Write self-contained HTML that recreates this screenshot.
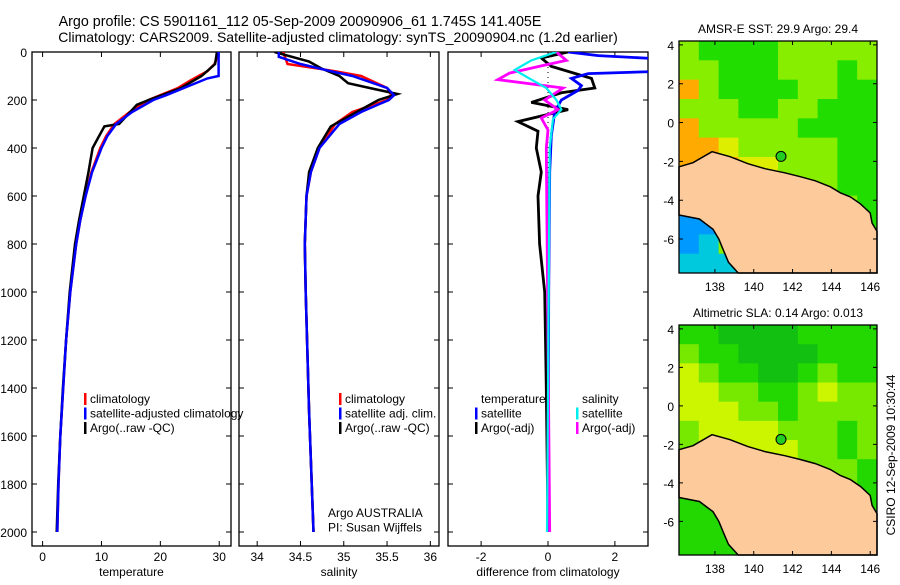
<!DOCTYPE html>
<html><head><meta charset="utf-8"><style>
html,body{margin:0;padding:0;background:#fff}
svg text{font-family:"Liberation Sans",sans-serif;fill:#000}
</style></head><body>
<svg id="chart" width="900" height="580" xmlns="http://www.w3.org/2000/svg">
<text x="300" y="26" font-size="14.3" text-anchor="middle">Argo profile: CS 5901161_112 05-Sep-2009 20090906_61 1.745S 141.405E</text>
<text x="338" y="42" font-size="14" text-anchor="middle">Climatology: CARS2009. Satellite-adjusted climatology: synTS_20090904.nc (1.2d earlier)</text>
<g id="p1"></g>
<g id="p2"></g>
<g id="p3"></g>
<g id="m1"></g>
<g id="m2"></g>
<text transform="translate(895,455) rotate(-90)" font-size="12" text-anchor="middle">CSIRO 12-Sep-2009 10:30:44</text>
</svg>
<script>
// ---------- data ----------
const tDepth=[0,20,50,80,100,120,150,180,200,250,300,350,400,500,600,700,800,1000,1200,1400,1600,1800,2000];
const tClim=[29.8,29.7,29.2,28,26.5,25,23,20,18,14.8,12.2,10.8,9.8,8.3,7.3,6.4,5.7,4.7,4.0,3.5,3.0,2.7,2.5];
const tSatDepth=[0,100,110,150,180,200,250,300,350,400,500,600,700,800,1000,1200,1400,1600,1800,2000];
const tSat=[29.9,29.9,28,24,21,18.8,15.2,12.5,11,10,8.4,7.3,6.4,5.7,4.7,4.0,3.5,3.0,2.7,2.5];
const tArgoDepth=[0,50,100,150,200,220,300,310,350,400,500,600,700,800,1000,1200,1400,1600,1800,2000];
const tArgo=[29.6,29.3,27,23.5,18,16,13,10.5,9.6,8.5,7.8,7,6.2,5.5,4.6,4.0,3.45,3.0,2.65,2.4];
const sDepth=[0,50,80,100,150,180,200,250,300,400,500,600,800,1000,1500,2000];
const sClim=[34.3,34.35,34.9,35.2,35.5,35.55,35.5,35.1,34.9,34.72,34.62,34.57,34.55,34.56,34.6,34.65];
const sSatDepth=[0,20,50,80,100,150,180,200,250,300,400,500,600,800,1000,1500,2000];
const sSat=[34.25,34.25,34.5,34.85,35.1,35.5,35.58,35.52,35.2,34.95,34.72,34.62,34.57,34.55,34.56,34.6,34.65];
const sArgoDepth=[0,40,70,100,130,150,175,200,250,310,340,400,500,600,800,1000,1500,2000];
const sArgo=[34.2,34.6,34.75,34.95,35.05,35.3,35.62,35.4,35.15,34.85,34.8,34.7,34.6,34.57,34.55,34.56,34.6,34.65];
const dBlueDepth=[0,15,30,50,70,80,90,110,140,160,200,250,350,500,1000,2000];
const dBlue=[0.6,1.5,3.5,4,4,3.5,1.2,0.7,1.0,0.9,0.4,0.2,0.1,0.05,0.02,0];
const dBlackDepth=[0,25,60,110,150,170,210,240,290,330,400,500,600,800,1000,1400,2000];
const dBlack=[0.6,-0.2,0.1,1.3,1.4,0.4,-0.5,0.6,-0.9,-0.3,-0.35,-0.2,-0.3,-0.25,-0.1,-0.05,0];
const dMagDepth=[0,35,58,88,115,150,200,240,275,325,400,2000];
const dMag=[0.25,0.55,-0.2,-1.15,-1.5,0.45,-0.1,0.3,-0.2,0,-0.05,0.05];
const dCyanDepth=[0,35,75,115,150,200,240,280,400,2000];
const dCyan=[0.25,-0.5,-1.0,-0.5,-0.05,0.25,0.4,0.15,0.05,-0.03];
const depthTicks=[0,200,400,600,800,1000,1200,1400,1600,1800,2000];
const tTicks=[0,10,20,30];
const sTicks=[34,34.5,35,35.5,36];
const dTicks=[-2,0,2];
const lonTicks=[138,140,142,144,146];
const latTicks=[4,2,0,-2,-4,-6];
const coastLon=[136.15,136.87,137.85,138.78,139.7,140.58,141.6,142.4,143.17,143.95,144.46,144.98,145.5,146.0,146.1,146.35];
const coastLat=[-2.28,-2.07,-1.50,-1.76,-2.12,-2.38,-2.59,-2.79,-3.0,-3.31,-3.62,-3.83,-4.19,-4.66,-5.18,-5.6];
const waterLon=[139.2,138.7,138.45,138.2,137.9,137.2,136.15];
const waterLat=[-7.75,-7.2,-6.6,-6.0,-5.5,-4.97,-4.76];
const sstRows=["LGGGGLLLLL","LLGGGLLLGL","OLGGGGLLGG","LLLGGLLGGG","OLLLLLGGGG","OOYLLLLLGG","OOOYYLLLGG","LLLLYYLLGG","LLLLLLYYLG","BBLLLLLLLG","BCLLLLLLLL","CCCLLLLLLL"];
const slaRows=["GGDDDDGGGG","LGGDDDDGGG","YLGGDDGLGG","YYLLGGLYLL","YYYLLGLLLL","LYYYYLLLGL","LYYYYYLLGL","LLYYYYLLLG","GLLYYLLLLG","GGGLLLLLGG","GGGLLLLLGG","GGGLLLLLGG"];
const sstColors={G:"#22dd00",L:"#88ee00",Y:"#ddee00",O:"#ffaa00",B:"#0099ff",C:"#00c8dd"};
const slaColors={G:"#22d800",D:"#11c010",L:"#77e800",Y:"#ccf500"};
const argoLon=141.405, argoLat=-1.745;

// ---------- helpers ----------
const NS="http://www.w3.org/2000/svg";
function mk(tag,parent,attrs){const e=document.createElementNS(NS,tag);for(const k in attrs)e.setAttribute(k,attrs[k]);parent.appendChild(e);return e;}
const Y0=52,Y1=546;
const yD=d=>Y0+d*0.24;

function panel(gid,x0,x1,vmin,vmax,ticks,fmt,xlabel,showDepth){
  const g=document.getElementById(gid);
  const xs=v=>x0+(v-vmin)/(vmax-vmin)*(x1-x0);
  const box=mk('rect',g,{x:x0,y:Y0,width:x1-x0,height:Y1-Y0,fill:'none',stroke:'#000','stroke-width':1.3});
  
  ticks.forEach(t=>{const x=xs(t);
    const tl=mk('path',g,{d:`M${x},${Y1}v-5M${x},${Y0}v5`,stroke:'#000'});
    
    const tx=mk('text',g,{x:x,y:561,'font-size':12,'text-anchor':'middle'});tx.textContent=fmt(t);
    });
  depthTicks.forEach(d=>{const y=yD(d);
    const tl=mk('path',g,{d:`M${x0},${y}h5M${x1},${y}h-5`,stroke:'#000'});
    
    if(showDepth){const tx=mk('text',g,{x:27,y:y+5,'font-size':12,'text-anchor':'end'});tx.textContent=d;
      }});
  const xl=mk('text',g,{x:(x0+x1)/2,y:576,'font-size':12,'text-anchor':'middle'});xl.textContent=xlabel;
  
  return xs;
}
function line(gid,xs,depths,vals,color,name,w){
  const g=document.getElementById(gid);
  const pts=depths.map((d,i)=>`${xs(vals[i]).toFixed(1)},${yD(d).toFixed(1)}`).join(' ');
  const p=mk('polyline',g,{points:pts,fill:'none',stroke:color,'stroke-width':w||2.5,'clip-path':`url(#clip-${gid})`});
  
}
function clip(gid,x0,x1){const svg=document.getElementById('chart');
  const c=mk('clipPath',svg,{id:'clip-'+gid});mk('rect',c,{x:x0,y:Y0,width:x1-x0,height:Y1-Y0});}
function legend(gid,x,y,items){const g=document.getElementById(gid);
  items.forEach((it,i)=>{const yy=y+i*14.5;
    if(it[1]){const m=mk('rect',g,{x:x-6,y:yy-10,width:2.5,height:12,fill:it[1]});
      }
    const t=mk('text',g,{x:x,y:yy,'font-size':12});t.textContent=it[0];
    });}

// ---------- panels ----------
clip('p1',32,231);clip('p2',239,439);clip('p3',448,648);
const xT=panel('p1',32,231,-1.8,32,tTicks,v=>v,'temperature',true);
line('p1',xT,tDepth,tClim,'#ff0000','temp-climatology-line');
line('p1',xT,tArgoDepth,tArgo,'#000000','temp-argo-line');
line('p1',xT,tSatDepth,tSat,'#0000ff','temp-satellite-line');
legend('p1',90,403,[['climatology','#ff0000'],['satellite-adjusted climatology','#0000ff'],['Argo(..raw -QC)','#000']]);

const xS=panel('p2',239,439,33.79,36.1,sTicks,v=>v,'salinity',false);
line('p2',xS,sDepth,sClim,'#ff0000','sal-climatology-line');
line('p2',xS,sArgoDepth,sArgo,'#000000','sal-argo-line');
line('p2',xS,sSatDepth,sSat,'#0000ff','sal-satellite-line');
legend('p2',345,403,[['climatology','#ff0000'],['satellite adj. clim.','#0000ff'],['Argo(..raw -QC)','#000']]);
legend('p2',328,517,[['Argo AUSTRALIA',null],['PI: Susan Wijffels',null]]);

const xDf=panel('p3',448,648,-2.99,2.99,dTicks,v=>v,'difference from climatology',false);
{const g=document.getElementById('p3');const z=mk('line',g,{x1:xDf(0),x2:xDf(0),y1:Y0,y2:yD(2000),stroke:'#000','stroke-dasharray':'1,4'});
}
line('p3',xDf,dBlackDepth,dBlack,'#000000','temp-argo-diff-line',2.8);
line('p3',xDf,dBlueDepth,dBlue,'#0000ff','temp-satellite-diff-line',2.8);
line('p3',xDf,dMagDepth,dMag,'#ff00ff','sal-argo-diff-line',2.8);
line('p3',xDf,dCyanDepth,dCyan,'#00eeee','sal-satellite-diff-line',2.2);
legend('p3',481,403,[['temperature',null],['satellite','#0000ff'],['Argo(-adj)','#000']]);
legend('p3',582,403,[['salinity',null],['satellite','#00eeee'],['Argo(-adj)','#ff00ff']]);

// ---------- maps ----------
function map(gid,top,bottom,rows,colors,title){
  const g=document.getElementById(gid);const L=679,R=877;
  const lonMin=136.15,lonMax=146.35,latMax=4.2,latMin=-7.75;
  const mx=lo=>L+(lo-lonMin)/(lonMax-lonMin)*(R-L);
  const my=la=>top+(latMax-la)/(latMax-latMin)*(bottom-top);
  const nr=rows.length,nc=rows[0].length;
  rows.forEach((r,i)=>{[...r].forEach((c,j)=>{
    const lo0=lonMin+j*(lonMax-lonMin)/nc,lo1=lonMin+(j+1)*(lonMax-lonMin)/nc;
    const la0=latMax-i*(latMax-latMin)/nr,la1=latMax-(i+1)*(latMax-latMin)/nr;
    const cell=mk('rect',g,{x:mx(lo0),y:my(la0),width:mx(lo1)-mx(lo0)+0.5,height:my(la1)-my(la0)+0.5,fill:colors[c]});
    });});
  let pts=coastLon.map((lo,i)=>`${mx(lo).toFixed(1)},${my(coastLat[i]).toFixed(1)}`);
  pts.push(`${R},${bottom}`);
  waterLon.forEach((lo,i)=>pts.push(`${mx(lo).toFixed(1)},${my(waterLat[i]).toFixed(1)}`));
  const land=mk('polygon',g,{points:pts.join(' '),fill:'#fdcb9b',stroke:'#000','stroke-width':1.5});
  
  const dot=mk('circle',g,{cx:mx(argoLon),cy:my(argoLat),r:5,fill:'#22cc22',stroke:'#000'});
  
  const fr=mk('rect',g,{x:L,y:top,width:R-L,height:bottom-top,fill:'none',stroke:'#000','stroke-width':1.3});
  
  lonTicks.forEach(lo=>{const x=mx(lo);
    const tk=mk('path',g,{d:`M${x},${bottom}v-4M${x},${top}v4`,stroke:'#000'});
    
    const t=mk('text',g,{x:x,y:bottom+18,'font-size':12,'text-anchor':'middle'});t.textContent=lo;
    });
  latTicks.forEach(la=>{const y=my(la);
    const tk=mk('path',g,{d:`M${L},${y}h4M${R},${y}h-4`,stroke:'#000'});
    
    const t=mk('text',g,{x:L-5,y:y+5,'font-size':12,'text-anchor':'end'});t.textContent=la;
    });
  const tt=mk('text',g,{x:(L+R)/2,y:top-8,'font-size':12,'text-anchor':'middle'});tt.textContent=title;
  
}
map('m1',41,273,sstRows,sstColors,'AMSR-E SST: 29.9 Argo: 29.4');
map('m2',325,555,slaRows,slaColors,'Altimetric SLA: 0.14 Argo: 0.013');
</script>
</body></html>
